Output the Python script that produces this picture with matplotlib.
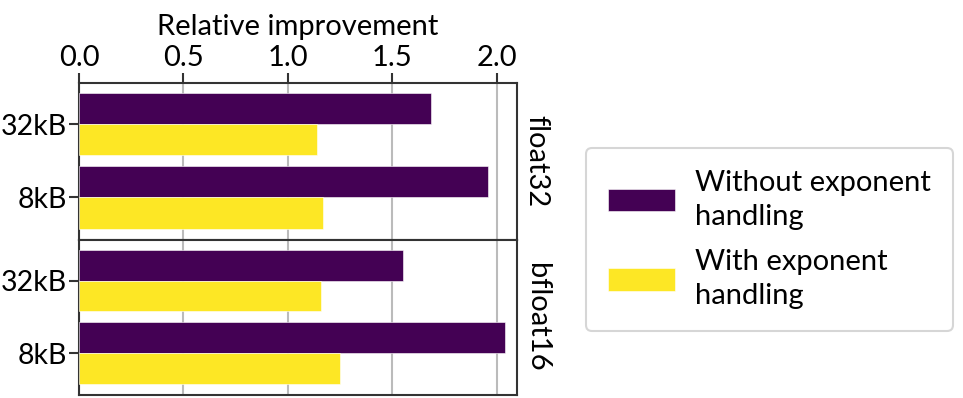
import matplotlib
matplotlib.use("Agg")
import matplotlib.pyplot as plt
import numpy as np

plt.rcParams['font.family'] = ['Lato', 'DejaVu Sans']

panels = ["float32", "bfloat16"]
categories = ["32kB", "8kB"]
series_names = ["Without exponent\nhandling", "With exponent\nhandling"]
without_vals = {"float32": [1.686, 1.957], "bfloat16": [1.549, 2.037]}
with_vals = {"float32": [1.140, 1.169], "bfloat16": [1.159, 1.248]}
colors = ["#440154", "#fde725"]
xticks = [0.0, 0.5, 1.0, 1.5, 2.0]

FS = 21
YFS = 20.5
LFS = 21
fig = plt.figure(figsize=(9.63, 3.98), dpi=100)
left, width = 79/963, (517-79)/963
ax_top = fig.add_axes([left, 1-239.5/398, width, 156.5/398])
ax_bot = fig.add_axes([left, 1-395/398, width, 155.5/398])

spine_c = "#333333"
h = 0.425
y = np.arange(len(categories))
handles = []
for ax, p in zip([ax_top, ax_bot], panels):
    b1 = ax.barh(y - h/2, without_vals[p], height=h, color=colors[0], edgecolor="white", linewidth=0.4, zorder=3)
    b2 = ax.barh(y + h/2, with_vals[p], height=h, color=colors[1], edgecolor="white", linewidth=0.4, zorder=3)
    if not handles:
        handles = [b1, b2]
    ax.set_xlim(0, 2.096)
    ax.set_ylim(1.575, -0.565)
    ax.set_yticks(y)
    ax.set_yticklabels(categories, fontsize=YFS)
    ax.set_xticks(xticks)
    ax.grid(axis="x", color="#bbbbbb", linewidth=1.5, zorder=0)
    ax.set_axisbelow(True)
    for s in ax.spines.values():
        s.set_color(spine_c)
        s.set_linewidth(1.5)
    ax.tick_params(axis="y", length=7, width=1.5, color=spine_c, pad=2)
    ax.text(1.045, 0.5, p, transform=ax.transAxes, rotation=-90, ha="center", va="center", fontsize=FS)

ax_top.xaxis.tick_top()
ax_top.xaxis.set_label_position("top")
ax_top.set_xticklabels([f"{v:.1f}" for v in xticks], fontsize=FS)
ax_top.tick_params(axis="x", length=7, width=1.5, color=spine_c, pad=2)
ax_top.set_xlabel("Relative improvement", fontsize=FS, labelpad=7)
ax_bot.tick_params(axis="x", length=0, labelbottom=False, labeltop=False)

leg = fig.legend(handles, series_names, loc="center left", bbox_to_anchor=(586/963, 1-239.5/398),
                 fontsize=LFS, frameon=True, handlelength=2.3, handleheight=0.8,
                 borderpad=0.75, labelspacing=0.68, handletextpad=0.7, borderaxespad=0)
for t in leg.get_texts():
    t.set_linespacing(1.35)
leg.get_frame().set_edgecolor("#cccccc")
leg.get_frame().set_linewidth(1.5)

fig.savefig("out.png", dpi=100)
